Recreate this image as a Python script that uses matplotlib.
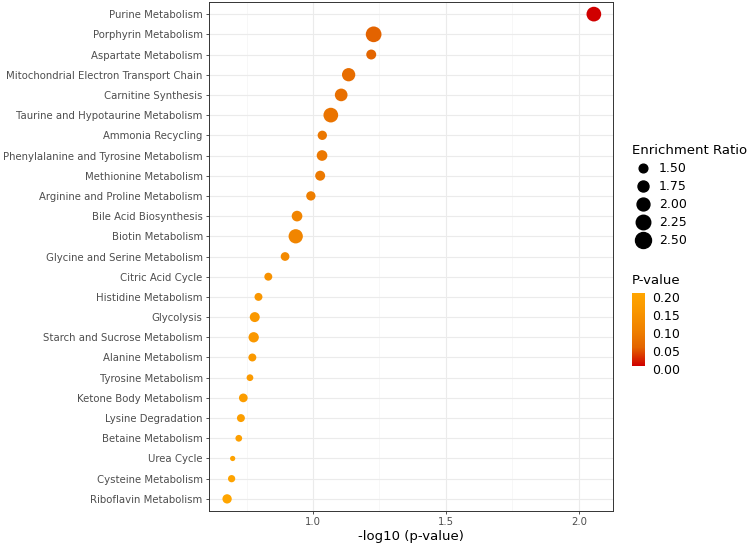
import numpy as np
import matplotlib
matplotlib.use("Agg")
import matplotlib.pyplot as plt
from matplotlib.colors import LinearSegmentedColormap, Normalize
from matplotlib.colorbar import ColorbarBase
from matplotlib.lines import Line2D

# pathway names, top to bottom
pathways = [
    "Purine Metabolism", "Porphyrin Metabolism", "Aspartate Metabolism",
    "Mitochondrial Electron Transport Chain", "Carnitine Synthesis",
    "Taurine and Hypotaurine Metabolism", "Ammonia Recycling",
    "Phenylalanine and Tyrosine Metabolism", "Methionine Metabolism",
    "Arginine and Proline Metabolism", "Bile Acid Biosynthesis",
    "Biotin Metabolism", "Glycine and Serine Metabolism", "Citric Acid Cycle",
    "Histidine Metabolism", "Glycolysis", "Starch and Sucrose Metabolism",
    "Alanine Metabolism", "Tyrosine Metabolism", "Ketone Body Metabolism",
    "Lysine Degradation", "Betaine Metabolism", "Urea Cycle",
    "Cysteine Metabolism", "Riboflavin Metabolism",
]
neglog_p = [2.056, 1.228, 1.219, 1.134, 1.106, 1.067, 1.035, 1.034, 1.027,
            0.992, 0.940, 0.935, 0.895, 0.832, 0.795, 0.781, 0.777, 0.772,
            0.763, 0.738, 0.729, 0.721, 0.698, 0.694, 0.677]
enrichment = [2.28, 2.45, 1.63, 2.06, 1.97, 2.28, 1.56, 1.71, 1.63, 1.56,
              1.71, 2.21, 1.50, 1.43, 1.43, 1.63, 1.67, 1.43, 1.33, 1.50,
              1.43, 1.33, 1.23, 1.37, 1.56]
size_breaks = [1.50, 1.75, 2.00, 2.25, 2.50]
p_ticks = [0.00, 0.05, 0.10, 0.15, 0.20]

pvals = 10 ** (-np.array(neglog_p))
DPI = 100

def diam_pt(er):
    # area-proportional size scale, diameter in points
    d_px = np.sqrt(76 + (np.asarray(er) - 1.5) * 180)
    return d_px * 72.0 / DPI

cmap = LinearSegmentedColormap.from_list(
    "pv", [(0, "#D00000"), (0.25, "#E36400"), (0.5, "#F08200"),
           (0.75, "#F99600"), (1, "#FFA500")])
norm = Normalize(vmin=pvals.min(), vmax=pvals.max())

fig = plt.figure(figsize=(7.48, 5.43), dpi=DPI)
ax = fig.add_axes([209 / 748, 1 - 511 / 543, 404 / 748, 509 / 543])

y = np.arange(len(pathways))
ax.scatter(neglog_p, y, s=diam_pt(enrichment) ** 2, c=pvals, cmap=cmap,
           norm=norm, linewidths=0, zorder=3)

ax.set_ylim(len(pathways) - 0.4, -0.6)
ax.set_yticks(y)
ax.set_yticklabels(pathways)
ax.set_xlim(0.609, 2.128)
ax.set_xticks([1.0, 1.5, 2.0])
ax.set_xticklabels(["1.0", "1.5", "2.0"])
ax.set_xticks([0.75, 1.25, 1.75], minor=True)
ax.grid(True, which="major", color="#EBEBEB", linewidth=0.8, zorder=0)
ax.grid(True, which="minor", axis="x", color="#F4F4F4", linewidth=0.5, zorder=0)
ax.set_axisbelow(True)
ax.tick_params(axis="both", which="major", labelsize=7.3, colors="#333333",
               length=2.5, width=0.6, pad=2)
ax.tick_params(which="minor", length=0)
for lbl in ax.get_xticklabels() + ax.get_yticklabels():
    lbl.set_color("#4D4D4D")
for sp in ax.spines.values():
    sp.set_color("#333333")
    sp.set_linewidth(0.7)
ax.set_xlabel("-log10 (p-value)", fontsize=9.5, color="black", labelpad=2)

# size legend
handles = [Line2D([], [], linestyle="none", marker="o", color="black",
                  markersize=diam_pt(b)) for b in size_breaks]
leg = fig.legend(handles, ["%.2f" % b for b in size_breaks],
                 title="Enrichment Ratio", loc="upper left",
                 bbox_to_anchor=(632 / 748, 1 - 144 / 543), frameon=False,
                 fontsize=9, title_fontsize=9.5, handletextpad=0.45,
                 labelspacing=0.4, borderaxespad=0, handlelength=1.7,
                 borderpad=0)
leg._legend_box.align = "left"

# colour legend
cax = fig.add_axes([632 / 748, 1 - 369 / 543, 13 / 748, 76 / 543])
cb = ColorbarBase(cax, cmap=cmap, norm=norm, orientation="vertical")
cb.set_ticks(p_ticks)
cb.set_ticklabels(["%.2f" % t for t in p_ticks])
cb.outline.set_visible(False)
cax.tick_params(labelsize=9, length=0, pad=5)
fig.text(632 / 748, 1 - 280 / 543, "P-value", fontsize=9.5, va="center")

fig.savefig("out.png", dpi=DPI)
